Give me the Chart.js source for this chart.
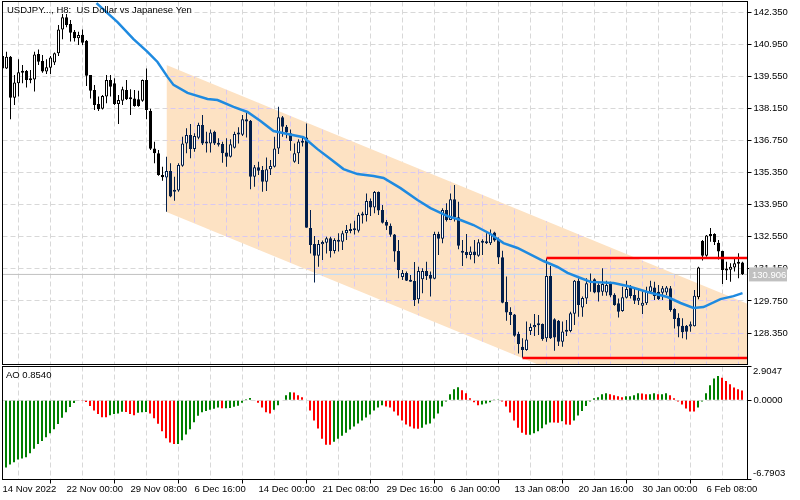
<!DOCTYPE html>
<html>
<head>
<meta charset="utf-8">
<script src="https://cdn.jsdelivr.net/npm/chart.js@4/dist/chart.umd.min.js"></script>
<style>
  html, body { margin: 0; background: #fff; }
  canvas { position: absolute; left: 0; }
  #price { top: 0; }
  #ao { top: 366px; }
</style>
</head>
<body>
<canvas id="price" width="800" height="366"></canvas>
<canvas id="ao" width="800" height="134"></canvas>
<script>
// H8 candles, first one sits on the left edge of the pane (bar -1)
const opens = [140.43,
  139.89,140.40,138.61,139.24,139.78,139.78,139.37,139.41,140.52,140.21,
  139.75,139.92,140.15,140.55,141.59,142.12,141.83,141.49,141.20,141.36,
  141.10,139.60,138.95,138.34,138.13,138.66,139.38,139.24,138.34,138.48,
  138.95,138.58,138.58,138.54,138.48,139.38,138.03,136.40,136.19,135.24,
  135.13,135.42,134.59,134.56,135.65,136.61,136.99,136.38,136.87,137.42,
  136.65,136.62,137.13,136.65,136.59,136.22,136.04,136.43,137.01,137.00,
  137.67,137.61,135.17,135.58,135.46,134.95,135.49,135.60,136.40,137.76,
  137.35,137.06,135.82,136.19,136.65,136.88,132.93,132.23,131.72,132.22,
  132.29,132.48,131.93,132.41,132.33,132.70,132.84,132.87,132.81,133.48,
  133.50,134.11,133.82,134.50,133.71,133.19,133.03,132.65,131.93,130.79,
  130.97,130.66,130.62,129.82,130.69,131.05,130.88,130.72,132.67,132.46,
  133.71,133.28,134.18,133.40,131.88,131.88,131.75,131.91,131.72,132.29,
  132.29,132.26,132.73,132.41,131.65,129.70,129.27,129.16,128.31,127.75,
  127.61,128.44,128.60,128.69,128.74,128.12,130.84,128.95,128.89,127.97,
  128.47,128.44,129.19,130.63,129.46,129.86,130.62,130.69,130.44,130.15,
  130.12,130.52,130.02,129.65,129.31,129.89,130.34,130.01,129.76,129.54,
  129.65,130.15,130.34,130.15,130.11,130.12,130.30,129.40,129.02,128.67,
  128.67,128.63,128.64,129.91,132.36,131.72,132.58,132.67,132.29,131.93,
  131.14,131.11,131.21,131.37,131.42];
const highs = [140.47,
  140.62,140.43,139.60,140.29,140.04,139.82,139.82,140.62,140.72,140.47,
  140.29,140.43,140.58,141.78,142.26,142.26,142.00,141.57,141.49,141.59,
  141.13,139.60,139.17,138.66,138.73,139.60,139.60,139.46,138.73,139.09,
  139.38,138.98,138.95,138.92,139.41,139.89,138.13,136.69,136.33,135.60,
  136.04,135.75,135.17,135.75,136.91,137.28,137.47,137.06,137.52,137.86,
  137.13,137.23,137.17,136.84,136.69,136.84,136.80,137.13,137.32,137.86,
  138.00,137.64,135.68,135.82,135.63,136.00,135.90,136.91,138.22,137.81,
  137.42,137.23,136.62,136.80,136.91,137.49,133.71,132.58,132.41,132.38,
  132.55,132.55,132.48,132.70,132.81,133.06,133.13,133.25,133.60,133.64,
  134.44,134.22,134.54,134.52,133.93,133.28,133.13,132.67,132.41,131.10,
  131.03,130.88,131.45,131.24,131.17,131.46,131.03,132.77,132.77,133.79,
  134.01,134.44,134.80,134.08,132.41,132.67,132.12,132.41,132.44,132.44,
  132.70,132.87,132.77,132.52,131.94,130.81,129.47,129.18,128.41,128.12,
  128.85,128.77,129.18,129.14,128.77,131.61,131.27,128.99,128.92,128.85,
  128.92,129.28,130.66,130.74,129.94,130.74,130.95,130.74,130.52,131.17,
  130.63,130.59,130.08,129.86,130.37,130.63,130.44,130.30,130.23,130.23,
  130.37,130.63,130.59,130.44,130.40,130.40,130.40,129.43,129.21,128.99,
  128.70,128.85,130.23,131.24,132.41,132.62,132.93,132.70,132.41,131.94,
  131.46,131.39,131.61,131.83,131.46];
const lows = [139.86,
  139.86,137.67,138.29,138.66,139.24,139.06,139.24,138.88,140.04,139.70,
  139.65,139.65,140.04,140.43,141.16,141.68,141.06,141.06,140.91,140.91,
  139.12,138.58,138.08,138.03,138.10,138.37,138.66,138.29,137.47,138.29,
  138.51,137.86,138.22,138.22,138.44,137.67,136.33,135.75,135.21,134.99,
  133.64,134.27,134.12,134.51,135.60,136.19,135.97,136.26,136.80,136.55,
  136.22,136.22,136.55,136.48,135.78,135.60,136.01,136.40,136.62,136.94,
  136.88,134.62,134.73,135.24,134.51,134.54,135.24,135.57,136.16,136.91,
  136.84,136.30,135.78,135.72,136.48,132.94,131.82,130.55,131.24,131.53,
  131.82,131.64,131.82,131.90,131.97,132.41,132.70,132.65,132.73,133.13,
  133.21,133.45,133.57,133.50,133.13,132.84,132.55,131.46,130.74,130.66,
  130.62,130.59,129.53,129.64,130.08,130.66,129.94,130.69,131.75,132.26,
  133.21,133.28,133.21,132.00,131.27,131.61,131.56,131.39,131.68,131.75,
  132.23,132.19,132.33,131.36,129.65,128.89,128.70,128.19,127.46,127.27,
  127.58,128.26,128.22,128.26,128.01,127.97,128.09,127.58,127.78,127.75,
  128.22,128.38,128.70,129.06,129.06,129.62,130.15,130.08,129.72,129.97,
  129.97,129.91,129.54,129.03,129.28,129.86,129.86,129.62,129.57,129.18,
  129.57,130.08,129.79,129.79,129.79,130.01,129.28,128.55,128.16,128.12,
  128.07,128.41,128.63,129.82,131.51,131.68,132.33,132.19,131.56,130.49,
  130.66,130.59,131.03,130.74,130.88];
const closes = [139.89,
  140.40,138.61,139.28,139.72,139.70,139.38,139.46,140.50,140.18,139.75,
  139.94,140.37,140.55,141.59,142.12,141.78,141.45,141.20,141.35,141.01,
  139.57,138.92,138.29,138.11,138.69,139.38,139.09,138.34,138.51,138.98,
  138.54,138.55,138.25,138.25,139.38,138.08,136.39,136.19,135.24,135.14,
  135.42,134.30,134.51,135.68,136.62,136.99,136.38,136.94,137.42,136.62,
  136.62,137.10,136.62,136.56,136.19,136.04,136.58,137.03,137.04,137.67,
  137.57,135.17,135.58,135.43,134.95,135.49,135.63,136.40,137.76,137.35,
  137.09,136.72,136.19,136.70,136.72,132.94,132.19,131.72,132.23,132.32,
  132.48,131.93,132.41,132.33,132.70,132.84,132.80,132.83,133.50,133.53,
  134.11,133.82,134.50,133.69,133.16,133.03,132.64,131.90,131.10,130.97,
  130.63,130.59,129.79,131.05,131.05,130.84,130.72,132.67,132.46,133.71,
  133.28,134.18,133.40,132.16,131.85,131.75,131.91,131.74,132.31,132.33,
  132.26,132.68,132.38,131.64,129.67,129.24,129.14,128.23,127.87,127.61,
  128.07,128.61,128.70,128.73,128.09,130.84,128.12,128.15,127.97,128.42,
  128.41,129.21,130.63,129.57,129.88,130.52,130.55,130.12,130.12,130.49,
  130.44,129.99,129.57,129.28,129.91,130.27,129.96,129.76,129.89,129.67,
  130.15,130.39,129.96,129.82,130.30,130.33,129.35,128.96,128.63,128.38,
  128.41,128.73,129.97,131.21,131.72,132.60,132.67,132.32,131.90,131.10,
  131.08,131.24,131.39,131.43,130.91];

const maBars = [22.5,27.75,31.75,35.25,37.75,40.25,41.75,45.25,50.25,52.75,56.75,60.25,63.5,66.75,70.25,74.25,77.75,81,84.25,87.75,91.75,94.25,98.5,102.75,106,110.25,113.5,116.75,121,124.25,127.75,134.25,137.75,140.25,143.5,146,151.75,155.25,160.25,165.25,168.5,171.75,174.25,178.5,181.75,184];
const maValues = [142.74,141.91,141.17,140.61,140.17,139.52,139.17,138.82,138.56,138.51,138.21,137.99,137.60,137.16,137.03,136.89,136.37,135.94,135.50,135.28,135.20,135.11,134.67,134.15,133.80,133.45,133.28,133.06,132.67,132.27,132.06,131.49,131.23,130.97,130.75,130.58,130.53,130.40,130.14,129.92,129.66,129.44,129.48,129.83,129.96,130.09];

// Awesome Oscillator, one value per bar from bar 0
const aoValues = [
  -5.77,-5.51,-5.31,-5.08,-4.99,-4.88,-4.53,-4.16,-3.75,-3.49,
  -3.17,-2.83,-2.48,-2.02,-1.50,-1.01,-0.58,-0.23,0.05,-0.02,
  -0.14,-0.49,-0.87,-1.18,-1.44,-1.45,-1.27,-1.18,-1.13,-0.98,
  -0.99,-1.18,-1.27,-1.07,-1.01,-1.00,-1.13,-1.53,-2.00,-2.66,
  -3.26,-3.61,-3.75,-3.74,-3.43,-2.92,-2.48,-1.88,-1.33,-1.01,
  -0.92,-0.81,-0.72,-0.61,-0.68,-0.67,-0.66,-0.55,-0.46,-0.20,
  0.09,0.20,-0.03,-0.20,-0.61,-1.01,-1.13,-0.81,-0.43,0.06,
  0.43,0.69,0.68,0.43,0.26,0.06,-0.87,-1.73,-2.42,-3.29,
  -3.80,-3.81,-3.55,-3.29,-3.03,-2.77,-2.51,-2.25,-1.99,-1.73,
  -1.47,-1.21,-0.87,-0.61,-0.43,-0.52,-0.61,-0.95,-1.30,-1.73,
  -2.08,-2.25,-2.42,-2.43,-2.34,-2.08,-1.99,-1.56,-1.13,-0.52,
  -0.09,0.52,0.95,1.13,0.87,0.61,0.17,-0.17,-0.43,-0.35,
  -0.26,-0.17,0.02,0.03,-0.09,-0.52,-1.04,-1.73,-2.34,-2.77,
  -2.96,-2.95,-2.83,-2.66,-2.40,-2.08,-1.90,-1.91,-1.92,-1.79,
  -2.08,-2.09,-1.73,-1.30,-0.92,-0.49,-0.09,0.17,0.26,0.52,
  0.61,0.52,0.43,0.35,0.26,0.35,0.36,0.43,0.61,0.58,
  0.52,0.53,0.61,0.52,0.53,0.61,0.43,0.17,-0.09,-0.35,
  -0.69,-0.95,-0.96,-0.61,-0.09,0.61,1.30,1.88,2.08,1.93,
  1.67,1.39,1.10,0.95,0.854];

const priceTicks = [142.35,140.95,139.55,138.15,136.75,135.35,133.95,132.55,131.15,129.75,128.35];
const aoTicks = [2.9047,0,-6.7903];
const gridBars = [-1,7,15,23,31,39,47,55,63,71,79,87,95,103,111,119,127,135,143,151,159,167,175,183];
const dateBars = [-1,15,31,47,63,79,95,111,127,143,159,175];
const dateLabels = ["14 Nov 2022","22 Nov 00:00","29 Nov 08:00","6 Dec 16:00","14 Dec 00:00","21 Dec 08:00","29 Dec 16:00","6 Jan 00:00","13 Jan 08:00","20 Jan 16:00","30 Jan 00:00","6 Feb 08:00"];

// drawn objects on the chart
const channelBars = [40,186];
const channelTop = [140.04,129.57];
const channelBottom = [133.63,123.17];
const lastPrice = 130.906;
const resistance = 131.62;
const resistanceBar = 135;
const support = 127.26;
const supportBar = 129;

const X_MIN = -1, X_MAX = 185.25;
const FONT = '"Liberation Sans"';
const FONT_PX = 9.5;
const GRID_GREY = "#d8d8d8";
Chart.defaults.font.family = FONT;
Chart.defaults.font.size = FONT_PX;
Chart.defaults.color = "#000";
Chart.defaults.animation = false;

const inChannel = (bar) => bar >= 40 && bar <= 172;
const candleBars = opens.map((_, k) => k - 1);
const edgeColor = candleBars.map((b) => (inChannel(b) ? "#021f4b" : "#000"));
const fillColor = candleBars.map((b, k) =>
  closes[k] > opens[k] ? "#fff" : edgeColor[k]
);

function line(xs, ys, color, width, order, extra) {
  return Object.assign({
    type: "line",
    data: xs.map((x, k) => ({ x: x, y: ys[k] })),
    borderColor: color,
    borderWidth: width,
    pointRadius: 0,
    tension: 0,
    order: order,
  }, extra);
}

function setTicks(values) {
  return (scale) => { scale.ticks = values.map((v) => ({ value: v })); };
}

// tick labels must not push the pane in from the canvas edges
function noPadding(s) {
  s.paddingLeft = s.paddingRight = s.paddingTop = s.paddingBottom = 0;
}

function xAxis(showLabels) {
  return {
    type: "linear",
    min: X_MIN,
    max: X_MAX,
    offset: false,
    afterBuildTicks: setTicks(gridBars),
    afterFit: (s) => { s.height = showLabels ? 20.5 : 1.5; noPadding(s); },
    border: { display: false, dash: [5, 3] },
    grid: {
      color: GRID_GREY,
      drawTicks: showLabels,
      tickLength: 4,
      tickColor: (c) => (c.tick && dateBars.includes(c.tick.value) ? "#000" : "transparent"),
    },
    ticks: {
      display: showLabels,
      autoSkip: false,
      maxRotation: 0,
      align: "start",
      padding: 0,
      callback: (v) => {
        const k = dateBars.indexOf(v);
        return k < 0 ? "" : dateLabels[k];
      },
    },
  };
}

// black box round the pane
const framePlugin = {
  id: "frame",
  afterDraw(chart) {
    const a = chart.chartArea, c = chart.ctx;
    c.save();
    c.strokeStyle = "#000";
    c.lineWidth = 1;
    c.strokeRect(a.left, a.top, a.right - a.left, a.bottom - a.top);
    c.restore();
  },
};

// grid turns lavender where it runs under the channel
const channelGridPlugin = {
  id: "channelGrid",
  afterDatasetDraw(chart, args) {
    if (args.index !== 0) return;
    const c = chart.ctx, x = chart.scales.x, y = chart.scales.y, a = chart.chartArea;
    c.save();
    c.beginPath();
    c.rect(a.left, a.top, a.right - a.left, a.bottom - a.top);
    c.clip();
    c.beginPath();
    c.moveTo(x.getPixelForValue(channelBars[0]), y.getPixelForValue(channelTop[0]));
    c.lineTo(x.getPixelForValue(channelBars[1]), y.getPixelForValue(channelTop[1]));
    c.lineTo(x.getPixelForValue(channelBars[1]), y.getPixelForValue(channelBottom[1]));
    c.lineTo(x.getPixelForValue(channelBars[0]), y.getPixelForValue(channelBottom[0]));
    c.closePath();
    c.clip();
    c.strokeStyle = "#d9c8f0";
    c.lineWidth = 1;
    c.setLineDash([5, 3]);
    gridBars.forEach((b) => {
      const px = Math.round(x.getPixelForValue(b) - 0.5) + 0.5;
      c.beginPath(); c.moveTo(px, a.top); c.lineTo(px, a.bottom); c.stroke();
    });
    priceTicks.forEach((p) => {
      const py = Math.round(y.getPixelForValue(p) - 0.5) + 0.5;
      c.beginPath(); c.moveTo(a.left, py); c.lineTo(a.right, py); c.stroke();
    });
    c.restore();
  },
};

// title and the grey last price tag
const priceTextPlugin = {
  id: "priceText",
  afterDraw(chart) {
    const c = chart.ctx, y = chart.scales.y;
    c.save();
    c.fillStyle = "#000";
    c.font = FONT_PX + "px " + FONT;
    c.textBaseline = "middle";
    c.fillText("USDJPY..., H8:  US Dollar vs Japanese Yen", 7, 10);
    const py = y.getPixelForValue(lastPrice);
    c.fillStyle = "#c0c0c0";
    c.fillRect(749, py - 7, 38, 14);
    c.fillStyle = "#fff";
    c.fillText(lastPrice.toFixed(3), 752, py + 0.5);
    c.restore();
  },
};

const aoTextPlugin = {
  id: "aoText",
  afterDraw(chart) {
    const c = chart.ctx, a = chart.chartArea;
    c.save();
    c.fillStyle = "#000";
    c.textBaseline = "middle";
    c.font = FONT_PX + "px " + FONT;
    c.fillText("AO " + aoValues[aoValues.length - 1].toFixed(4), 6, a.top + 9);
    c.fillText(aoTicks[0].toFixed(4), 753, a.top + 5);
    c.fillText(aoTicks[2].toFixed(4), 753, a.bottom - 6);
    c.restore();
  },
};

const basePlugins = { legend: { display: false }, tooltip: { enabled: false } };

new Chart(document.getElementById("price"), {
  type: "bar",
  data: {
    datasets: [
      line(channelBars, channelTop, "transparent", 0, 9, { fill: "+1", backgroundColor: "#fde2c3" }),
      line(channelBars, channelBottom, "transparent", 0, 8),
      line([X_MIN, X_MAX], [lastPrice, lastPrice], "#c0c0c0", 1, 7),
      line([77.75, 167], [lastPrice, lastPrice], "#c6def6", 1, 6),
      {
        data: candleBars.map((b, k) => ({ x: b, y: [lows[k], highs[k]] })),
        backgroundColor: edgeColor,
        borderWidth: 0,
        barThickness: 1,
        grouped: false,
        inflateAmount: 0,
        order: 5,
      },
      {
        data: candleBars.map((b, k) => ({ x: b, y: [opens[k], closes[k]] })),
        backgroundColor: fillColor,
        borderColor: edgeColor,
        borderWidth: 1,
        borderSkipped: false,
        barThickness: 3,
        grouped: false,
        inflateAmount: 0,
        minBarLength: 2,
        order: 4,
      },
      line(maBars, maValues, "#1e8ae0", 2.5, 3),
      line([resistanceBar, X_MAX], [resistance, resistance], "#ff0000", 2.5, 2),
      line([supportBar, X_MAX], [support, support], "#ff0000", 2.5, 1),
    ],
  },
  options: {
    responsive: false,
    events: [],
    layout: { padding: { left: 2.5, top: 1.5, right: 0, bottom: 0 } },
    plugins: basePlugins,
    scales: {
      x: xAxis(false),
      y: {
        position: "right",
        min: 126.977,
        max: 142.808,
        afterBuildTicks: setTicks(priceTicks),
        afterFit: (s) => { s.width = 52.5; noPadding(s); },
        border: { display: false, dash: [5, 3] },
        grid: { color: GRID_GREY, tickLength: 4, tickColor: "#000" },
        ticks: { autoSkip: false, padding: 2, callback: (v) => v.toFixed(3) },
      },
    },
  },
  plugins: [channelGridPlugin, framePlugin, priceTextPlugin],
});

new Chart(document.getElementById("ao"), {
  type: "bar",
  data: {
    datasets: [
      {
        // 2px bars: shift half a pixel so they land on whole pixels
        data: aoValues.map((v, k) => ({ x: k - 0.125, y: v })),
        backgroundColor: aoValues.map((v, k) =>
          k > 0 && v < aoValues[k - 1] ? "#ff0000" : "#008000"
        ),
        borderWidth: 0,
        barThickness: 2,
        inflateAmount: 0,
      },
    ],
  },
  options: {
    responsive: false,
    events: [],
    layout: { padding: { left: 2.5, top: 0.5, right: 0, bottom: 0 } },
    plugins: basePlugins,
    scales: {
      x: xAxis(true),
      y: {
        position: "right",
        min: aoTicks[2],
        max: aoTicks[0],
        afterBuildTicks: setTicks(aoTicks),
        afterFit: (s) => { s.width = 52.5; noPadding(s); },
        border: { display: false, dash: [5, 3] },
        grid: {
          color: (c) => (c.tick && c.tick.value === 0 ? GRID_GREY : "transparent"),
          tickLength: 4,
          tickColor: "#000",
        },
        ticks: {
          autoSkip: false,
          padding: 2,
          callback: (v) => (v === 0 ? v.toFixed(4) : ""),
        },
      },
    },
  },
  plugins: [framePlugin, aoTextPlugin],
});
</script>
</body>
</html>
